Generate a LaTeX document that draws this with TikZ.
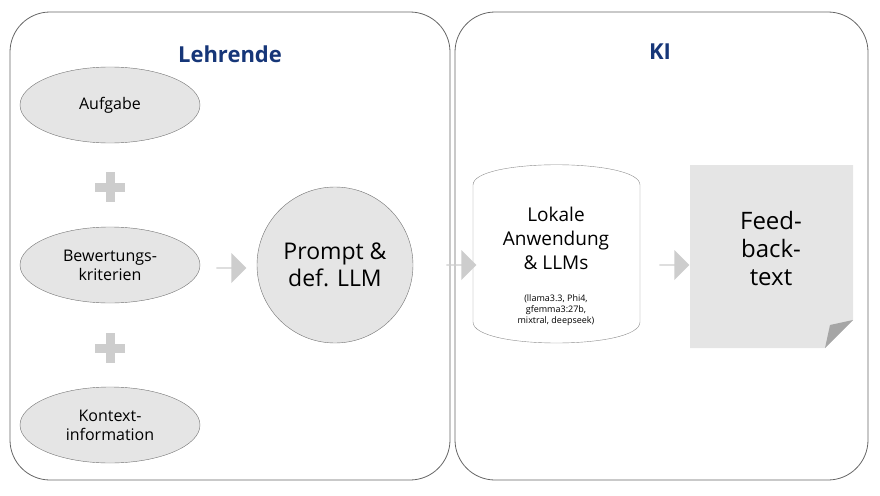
\documentclass[tikz,border=0pt]{standalone}
\usepackage{fontspec}
\setmainfont{Open Sans}
\usetikzlibrary{shapes.arrows, shapes.geometric}
\definecolor{titleblue}{RGB}{22,54,120}
\definecolor{shapegray}{RGB}{229,229,229}
\definecolor{arrowgray}{RGB}{205,205,205}
\tikzset{
  panel/.style={draw=black!60, line width=0.8pt, rounded corners=40pt},
  oval/.style={draw=black!55, fill=shapegray, ellipse, minimum width=180pt, minimum height=76pt, align=center, font=\fontsize{16}{19}\selectfont},
  blockarrow/.style={single arrow, fill=arrowgray, minimum height=30pt, minimum width=30pt, single arrow head extend=5pt, inner sep=0pt},
  plussign/.style={draw=arrowgray, line width=9pt},
}
\begin{document}
\begin{tikzpicture}[x=1pt,y=-1pt]
\useasboundingbox (0,0) rectangle (880,495);

% panels
\draw[panel] (10,12) rectangle (450,480);
\draw[panel] (455,12) rectangle (868,480);
\node[font=\fontsize{22}{26}\selectfont\bfseries, text=titleblue] (lehrende) at (230,54) {Lehrende};
\node[font=\fontsize{22}{26}\selectfont\bfseries, text=titleblue] (ki) at (660,52) {KI};

% inputs
\node[oval] (aufgabe) at (110,105) {Aufgabe};
\node[oval] (kriterien) at (110,265) {Bewertungs-\\kriterien};
\node[oval] (kontext) at (110,425) {Kontext-\\information};

\draw[plussign] (95,187) -- (125,187);
\draw[plussign] (110,172) -- (110,202);
\draw[plussign] (95,348) -- (125,348);
\draw[plussign] (110,333) -- (110,363);

% prompt
\node[circle, draw=black!55, fill=shapegray, minimum size=156pt, align=center, font=\fontsize{23}{27}\selectfont] (prompt) at (335,265) {Prompt \&\\def. LLM};

% local application
\draw[draw=black!45, fill=white] (473,185) .. controls (473,158) and (640,158) .. (640,185) -- (640,322) .. controls (640,350) and (473,350) .. (473,322) -- cycle;
\node[align=center, font=\fontsize{19}{24}\selectfont] (lokal) at (556,238) {Lokale\\Anwendung\\\& LLMs};
\node[align=center, font=\fontsize{9}{11}\selectfont] (modelle) at (556,310) {(llama3.3, Phi4,\\gfemma3:27b,\\mixtral, deepseek)};

% feedback document
\fill[shapegray] (690,165) -- (853,165) -- (853,320) -- (825,348) -- (690,348) -- cycle;
\fill[black!35] (853,320) -- (825,348) -- (830,325) -- cycle;
\node[align=center, font=\fontsize{24}{28}\selectfont] (feedback) at (771,248) {Feed-\\back-\\text};

% arrows
\node[blockarrow] (pfeila) at (231,268) {};
\node[blockarrow] (pfeilb) at (461,265) {};
\node[blockarrow] (pfeilc) at (674,265) {};

\end{tikzpicture}
\end{document}
